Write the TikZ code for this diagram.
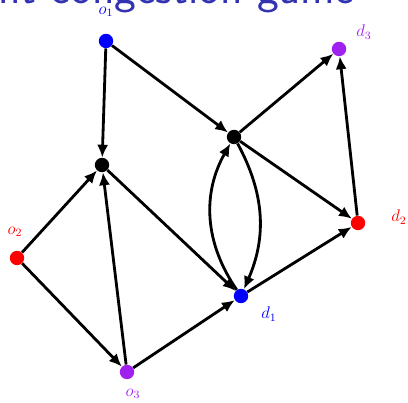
\documentclass[tikz,border=0pt]{standalone}
\usepackage{tikz}
\usetikzlibrary{positioning,arrows.meta}
\usepackage{xcolor}
\usepackage{amsmath,amssymb}
\definecolor{structblue}{RGB}{51,51,178}
\definecolor{nodepurple}{RGB}{160,32,240}

\tikzset{
  vert/.style={circle,fill=#1,inner sep=0pt,minimum size=0.36cm},
  vlabel/.style={text=#1,font=\fontsize{12}{14}\selectfont,on grid},
  flow/.style={-{Latex[length=3.2mm,width=2.8mm]},line width=2pt,black}
}

\begin{document}
\begin{tikzpicture}
        \useasboundingbox (0,0) rectangle (10.2,10.05);
        % title, cut off at the top of the frame
        \node[text=structblue,font=\fontsize{33}{38}\selectfont\sffamily,
              anchor=base west,inner sep=0pt]
          (title) at (-0.54,9.97) {ent congestion game};
        % vertices
        \node[vert=blue] (o1) at (2.65,9.025) {};
        \node[vert=black] (a) at (5.85,6.625) {};
        \node[vert=black] (b) at (2.55,5.925) {};
        \node[vert=nodepurple] (d3) at (8.475,8.825) {};
        \node[vert=red] (d2) at (8.95,4.475) {};
        \node[vert=red] (o2) at (0.425,3.6) {};
        \node[vert=blue] (d1) at (6.025,2.65) {};
        \node[vert=nodepurple] (o3) at (3.175,0.75) {};
        % labels
        \node[vlabel=blue,above=0.725cm of o1] (o1lbl) {$o_1$};
        \node[vlabel=nodepurple,above right=0.425cm and 0.625cm of d3] (d3lbl) {$d_3$};
        \node[vlabel=red,above right=0.15cm and 1.025cm of d2] (d2lbl) {$d_2$};
        \node[vlabel=red,above left=0.65cm and 0.05cm of o2] (o2lbl) {$o_2$};
        \node[vlabel=blue,below right=0.45cm and 0.7cm of d1] (d1lbl) {$d_1$};
        \node[vlabel=nodepurple,below right=0.55cm and 0.15cm of o3] (o3lbl) {$o_3$};
        % edges
        \draw[flow] (o1) -- (b);
        \draw[flow] (o1) -- (a);
        \draw[flow] (o2) -- (b);
        \draw[flow] (o2) -- (o3);
        \draw[flow] (o3) -- (b);
        \draw[flow] (o3) -- (d1);
        \draw[flow] (b) -- (d1);
        \draw[flow] (a) -- (d3);
        \draw[flow] (a) -- (d2);
        \draw[flow] (a) to[bend left=26] (d1);
        \draw[flow] (d1) to[bend left=32] (a);
        \draw[flow] (d2) -- (d3);
        \draw[flow] (d1) -- (d2);
\end{tikzpicture}
\end{document}
